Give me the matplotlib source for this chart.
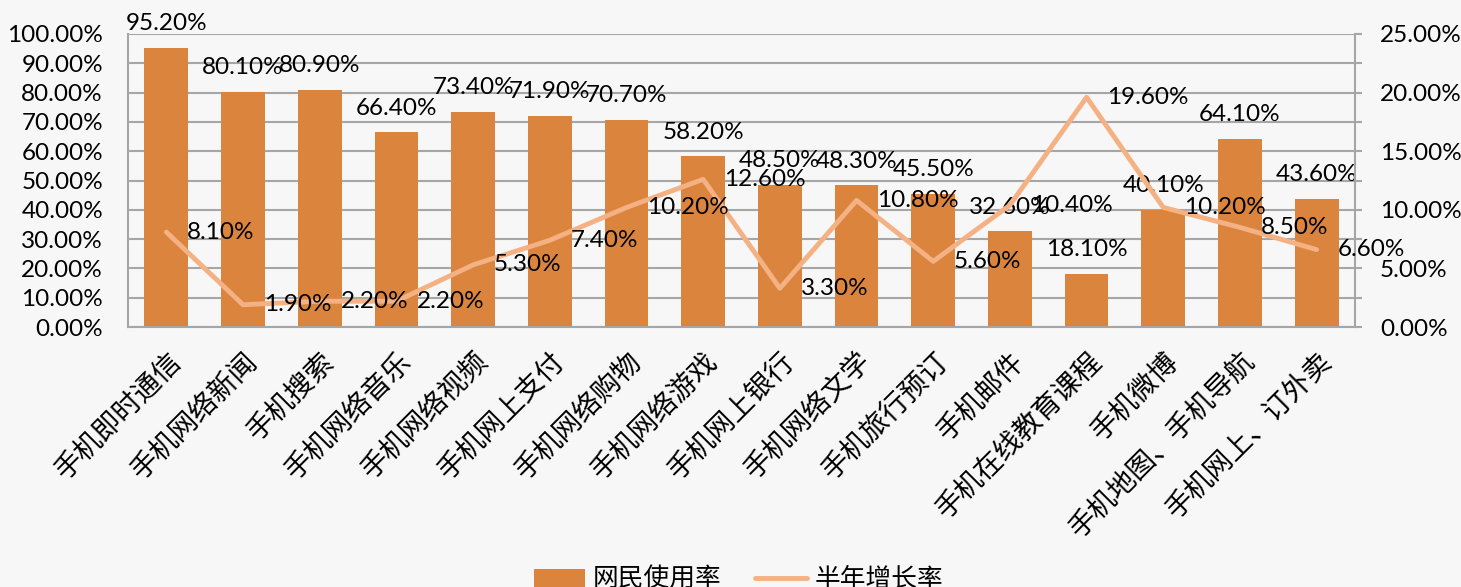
import matplotlib.pyplot as plt
from matplotlib.ticker import PercentFormatter, MultipleLocator

plt.rcParams['font.family'] = ['Lato', 'Noto Sans CJK SC', 'DejaVu Sans']

# data
categories = ["手机即时通信", "手机网络新闻", "手机搜索", "手机网络音乐", "手机网络视频",
              "手机网上支付", "手机网络购物", "手机网络游戏", "手机网上银行", "手机网络文学",
              "手机旅行预订", "手机邮件", "手机在线教育课程", "手机微博", "手机地图、手机导航",
              "手机网上、订外卖"]
usage = [95.2, 80.1, 80.9, 66.4, 73.4, 71.9, 70.7, 58.2, 48.5, 48.3, 45.5, 32.6, 18.1, 40.1, 64.1, 43.6]
growth = [8.1, 1.9, 2.2, 2.2, 5.3, 7.4, 10.2, 12.6, 3.3, 10.8, 5.6, 10.4, 19.6, 10.2, 8.5, 6.6]

bar_color = '#DA843E'
line_color = '#F4B183'
grid_color = '#A6A6A6'
bg = '#F7F7F7'
fs = 17.5

fig = plt.figure(figsize=(14.61, 5.87), dpi=100, facecolor=bg)
ax = fig.add_axes([128 / 1461, 1 - 327 / 587, (1355 - 128) / 1461, (327 - 34) / 587])
ax.set_facecolor(bg)
x = range(len(categories))

ax.bar(x, usage, width=0.57, color=bar_color, label='网民使用率', zorder=2)
ax.set_xlim(-0.5, len(categories) - 0.5)
ax.set_ylim(0, 100)
ax.yaxis.set_major_locator(MultipleLocator(10))
ax.yaxis.set_major_formatter(PercentFormatter(decimals=2))
ax.grid(axis='y', color=grid_color, linewidth=1.5)
ax.set_axisbelow(True)
ax.tick_params(axis='y', length=0, labelsize=fs, pad=18)
ax.tick_params(axis='x', length=0, pad=14)
ax.set_xticks(list(x))
ax.set_xticklabels(categories, rotation=45, ha='right', rotation_mode='anchor',
                   fontsize=20, family=['Noto Sans CJK SC'])
for s in ['top', 'right']:
    ax.spines[s].set_visible(False)
for s in ['left', 'bottom']:
    ax.spines[s].set_color(grid_color)
    ax.spines[s].set_linewidth(1.5)

for i, v in enumerate(usage):
    ax.annotate(f"{v:.2f}%", (i, v), xytext=(0, 10), textcoords='offset points',
                ha='center', va='bottom', fontsize=fs)

ax2 = ax.twinx()
ax2.plot(x, growth, color=line_color, linewidth=3.5, label='半年增长率', zorder=3,
         solid_capstyle='round')
ax2.set_ylim(0, 25)
ax2.yaxis.set_major_locator(MultipleLocator(5))
ax2.yaxis.set_minor_locator(MultipleLocator(2.5))
ax2.yaxis.set_major_formatter(PercentFormatter(decimals=2))
ax2.tick_params(axis='y', which='both', direction='out', length=5, width=1.5,
                color=grid_color, labelsize=fs, pad=13)
for s in ['top', 'left', 'bottom']:
    ax2.spines[s].set_visible(False)
ax2.spines['right'].set_color(grid_color)
ax2.spines['right'].set_linewidth(1.5)

for i, v in enumerate(growth):
    ax2.annotate(f"{v:.2f}%", (i, v), xytext=(15, 0), textcoords='offset points',
                 ha='left', va='center', fontsize=fs)

h1, l1 = ax.get_legend_handles_labels()
h2, l2 = ax2.get_legend_handles_labels()
fig.legend(h1 + h2, l1 + l2, loc='center', bbox_to_anchor=(0.5055, 0.012), ncol=2,
           frameon=False, prop={'family': ['Noto Sans CJK SC'], 'size': 18.5},
           handlelength=2.0, columnspacing=1.3, handletextpad=0.3)

fig.savefig("out.png", dpi=100, facecolor=bg)
